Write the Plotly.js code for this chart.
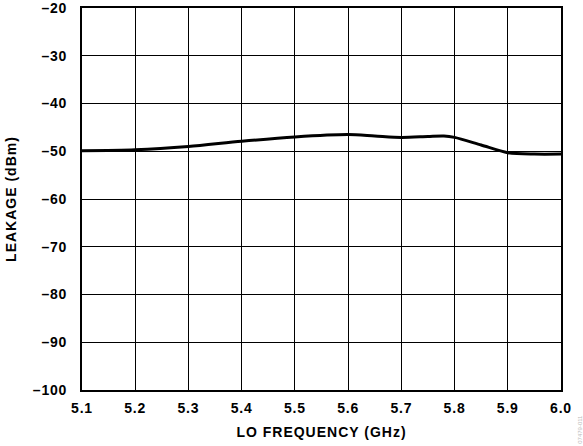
<!DOCTYPE html>
<html><head><meta charset="utf-8">
<script src="https://cdn.plot.ly/plotly-3.0.1.min.js"></script>
<style>html,body{margin:0;padding:0;background:#fff}#c{width:583px;height:446px}
#c .xtitle,#c .ytitle{letter-spacing:1px}
#c .xtick text,#c .ytick text{letter-spacing:0.8px}
</style>
</head><body><div id="c"></div>
<script>
const freqGHz = [5.10, 5.20, 5.30, 5.40, 5.50, 5.60, 5.65, 5.70, 5.75, 5.78, 5.80, 5.85, 5.90, 5.95, 6.00];
const leakageDbm = [-49.9, -49.7, -49.0, -47.9, -47.0, -46.5, -46.8, -47.1, -46.9, -46.8, -47.1, -48.7, -50.3, -50.6, -50.6];
const xTicks = [5.1, 5.2, 5.3, 5.4, 5.5, 5.6, 5.7, 5.8, 5.9, 6.0];
const xTickText = ["5.1","5.2","5.3","5.4","5.5","5.6","5.7","5.8","5.9","6.0"];
const yTicks = [-100, -90, -80, -70, -60, -50, -40, -30, -20];
const yTickText = ["\u2013100","\u201390","\u201380","\u201370","\u201360","\u201350","\u201340","\u201330","\u201320"];

const fam = "Liberation Sans, Arial, sans-serif";
const bold = a => a.map(s => "<b>" + s + "</b>");
Plotly.newPlot("c", [{
  x: freqGHz, y: leakageDbm, type: "scatter", mode: "lines",
  line: {color: "#000", width: 3, shape: "spline", smoothing: 0.8},
  hoverinfo: "skip"
}], {
  width: 583, height: 446,
  margin: {l: 82, r: 22, t: 8, b: 56},
  paper_bgcolor: "#fff", plot_bgcolor: "#fff",
  showlegend: false,
  font: {family: fam, size: 13, color: "#000"},
  xaxis: {
    range: [5.1, 6.0], tickvals: xTicks, ticktext: bold(xTickText),
    showgrid: true, gridcolor: "#000", gridwidth: 1,
    showline: true, linecolor: "#000", linewidth: 2, mirror: true,
    ticks: "", zeroline: false, ticklabelstandoff: 4, ticklabeloverflow: "allow",
    tickfont: {family: fam, size: 14, color: "#000"},
    title: {text: "<b>LO FREQUENCY (GHz)</b>", font: {family: fam, size: 14, color: "#000"}, standoff: 12}
  },
  yaxis: {
    range: [-100, -20], tickvals: yTicks, ticktext: bold(yTickText),
    showgrid: true, gridcolor: "#000", gridwidth: 1,
    showline: true, linecolor: "#000", linewidth: 2, mirror: true,
    ticks: "", zeroline: false, ticklabelstandoff: 10, ticklabeloverflow: "allow",
    tickfont: {family: fam, size: 14, color: "#000"},
    title: {text: "<b>LEAKAGE (dBm)</b>", font: {family: fam, size: 14, color: "#000"}, standoff: 16}
  },
  annotations: [{
    text: "07479-011", xref: "paper", yref: "paper", x: 1.03, y: -0.06,
    showarrow: false, textangle: -90, font: {family: fam, size: 6, color: "#bbb"},
    xanchor: "left", yanchor: "top"
  }]
}, {displayModeBar: false, staticPlot: true});
</script></body></html>
